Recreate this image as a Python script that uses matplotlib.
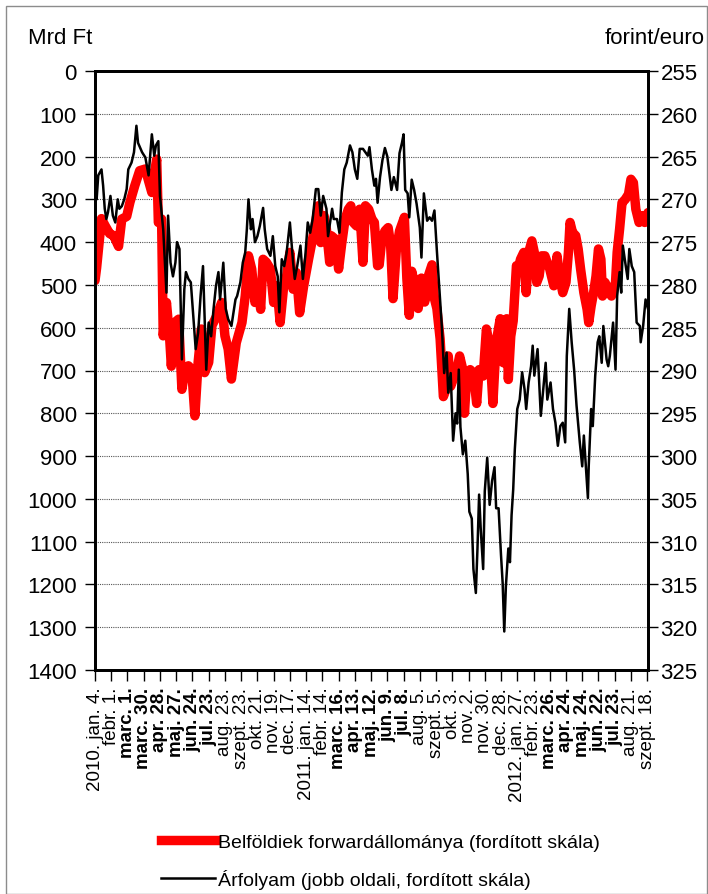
import matplotlib
matplotlib.use("Agg")
import matplotlib.pyplot as plt
from matplotlib.lines import Line2D
from matplotlib.patches import Rectangle

FONT = ["Liberation Sans", "DejaVu Sans"]
plt.rcParams["font.family"] = FONT

# ---- x tick labels (every 20 trading days) ----
tick_labels = ["2010. jan. 4.", "febr. 1.", "marc. 1.", "marc. 30.", "apr. 28.", "maj. 27.",
               "jun. 24.", "jul. 23.", "aug. 23.", "szept. 23.", "okt. 21.", "nov. 19.",
               "dec. 17.", "2011. jan. 14.", "febr. 14.", "marc. 16.", "apr. 13.", "maj. 12.",
               "jun. 9.", "jul. 8.", "aug. 5.", "szept. 5.", "okt. 3.", "nov. 2.", "nov. 30.",
               "dec. 28.", "2012. jan. 27.", "febr. 23.", "marc. 26.", "apr. 24.", "maj. 24.",
               "jun. 22.", "jul. 23.", "aug. 21.", "szept. 18."]
bold_labels = {"marc. 1.", "marc. 30.", "apr. 28.", "maj. 27.", "jun. 24.", "jul. 23.",
               "marc. 16.", "apr. 13.", "maj. 12.", "jun. 9.", "jul. 8.",
               "marc. 26.", "apr. 24.", "maj. 24.", "jun. 22."}

# ---- forward position of residents (Mrd Ft), trading-day index ----
fwd_day = [0, 2, 8, 12, 18, 23, 29, 33, 39, 43, 49, 55, 62, 66, 70, 74, 76, 78, 82, 84,
           88, 92, 94, 98, 103, 107, 111, 115, 119, 123, 127, 131, 135, 140, 144, 150, 156,
           160, 164, 168, 174, 181, 185, 189, 193, 197, 201, 204, 207, 211, 216, 220, 224,
           228, 232, 236, 240, 244, 248, 252, 257, 263, 267, 271, 275, 278, 282, 285, 289,
           291, 296, 300, 304, 308, 312, 315, 318, 322, 326, 330, 333, 337, 341, 344, 348,
           350, 353, 357, 361, 364, 367, 371, 375, 378, 381, 384, 387, 390, 394, 398, 402,
           406, 411, 415, 418, 421, 425, 429, 432, 435, 438, 441, 445, 449, 452, 455, 458,
           462, 466, 470, 473, 478, 482, 486, 490, 494, 499, 503, 507, 509, 512, 515, 519,
           521, 524, 528, 531, 534, 538, 541, 544, 547, 550, 554, 557, 560, 565, 569, 572,
           576, 580, 583, 585, 588, 592, 595, 598, 602, 606, 608, 611, 614, 617, 620, 623,
           625, 628, 632, 636, 641, 643, 646, 649, 653, 657, 660, 663, 666, 670, 674, 677,
           681]
fwd_val = [490, 460, 345, 360, 380, 385, 410, 346, 340, 307, 268, 233, 229, 257, 284, 229,
           206, 354, 346, 619, 541, 627, 690, 588, 580, 744, 697, 689, 697, 806, 681, 603,
           705, 681, 595, 572, 541, 619, 650, 720, 635, 588, 526, 432, 463, 541, 502, 557,
           440, 447, 463, 541, 502, 588, 510, 479, 424, 510, 471, 565, 502, 440, 401, 362,
           315, 401, 338, 370, 447, 385, 393, 463, 401, 346, 323, 315, 354, 362, 323, 447,
           315, 323, 346, 354, 455, 453, 397, 374, 366, 405, 532, 421, 374, 358, 342, 484,
           571, 468, 500, 555, 484, 540, 476, 453, 532, 555, 626, 761, 745, 666, 737, 721,
           706, 666, 690, 800, 706, 698, 706, 777, 698, 713, 603, 642, 777, 634, 579, 682,
           579, 721, 620, 584, 455, 463, 440, 424, 518, 424, 397, 424, 494, 479, 432, 432,
           448, 463, 502, 432, 479, 518, 494, 424, 354, 377, 385, 416, 463, 518, 557, 588,
           549, 518, 479, 416, 440, 526, 494, 510, 526, 494, 424, 370, 308, 300, 288, 253,
           261, 323, 354, 338, 354, 331]

# ---- HUF/EUR exchange rate, trading-day index ----
fx_day = [0, 2, 4, 8, 10, 12, 14, 16, 19, 22, 25, 28, 30, 33, 36, 39, 41, 45, 48, 51, 53,
          58, 62, 66, 70, 73, 75, 78, 80, 84, 88, 90, 93, 96, 99, 101, 104, 107, 110, 112,
          115, 118, 121, 124, 127, 130, 133, 137, 140, 143, 146, 149, 152, 154, 158, 161,
          164, 168, 173, 175, 179, 182, 185, 187, 189, 192, 194, 197, 200, 203, 207, 209,
          212, 216, 219, 222, 225, 227, 230, 233, 236, 240, 244, 246, 249, 253, 256, 259,
          262, 265, 268, 272, 275, 278, 281, 285, 287, 292, 294, 298, 301, 304, 307, 310,
          314, 317, 320, 323, 326, 330, 333, 336, 338, 341, 344, 346, 348, 351, 354, 357,
          360, 363, 365, 368, 372, 375, 378, 380, 382, 385, 387, 390, 393, 396, 400, 402,
          405, 409, 412, 415, 418, 421, 424, 427, 430, 433, 435, 438, 441, 444, 446, 448,
          450, 453, 456, 459, 461, 464, 466, 469, 471, 473, 475, 478, 480, 483, 486, 489,
          492, 494, 497, 500, 502, 504, 506, 509, 511, 513, 515, 517, 520, 523, 526, 529,
          531, 534, 537, 539, 541, 543, 545, 547, 549, 552, 555, 557, 561, 564, 567, 570,
          573, 576, 579, 581, 584, 587, 590, 593, 597, 600, 602, 605, 607, 608, 611, 613,
          616, 619, 621, 624, 626, 630, 632, 634, 638, 641, 643, 646, 648, 650, 653, 656,
          658, 661, 664, 667, 671, 672, 675, 678, 681]
fx_val = [268.8, 270.0, 267.2, 266.5, 268.4, 271.1, 272.3, 271.5, 269.6, 271.9, 272.7,
          270.0, 271.1, 270.8, 270.0, 268.8, 266.5, 265.7, 264.5, 261.4, 263.4, 264.5,
          265.1, 267.2, 262.4, 264.9, 263.7, 263.2, 269.6, 273.5, 280.9, 271.9, 277.4,
          279.0, 277.4, 275.0, 275.8, 288.7, 280.5, 278.5, 279.3, 279.7, 283.6, 287.5,
          285.6, 281.3, 277.8, 289.9, 284.4, 286.0, 282.8, 280.1, 278.5, 281.7, 277.4,
          282.8, 284.0, 284.8, 281.7, 281.3, 279.7, 277.4, 276.2, 273.5, 270.0, 273.5,
          272.3, 275.0, 274.3, 273.1, 271.0, 273.5, 275.8, 276.6, 274.3, 277.8, 279.0,
          283.2, 277.0, 277.8, 276.2, 272.7, 277.4, 279.3, 277.8, 275.4, 279.3, 276.6,
          272.7, 273.9, 272.3, 268.8, 268.8, 271.9, 269.6, 271.1, 274.3, 271.1, 272.3,
          272.3, 273.9, 269.2, 266.5, 265.7, 263.7, 264.5, 266.5, 267.6, 264.1, 264.1,
          264.5, 264.9, 263.9, 266.5, 268.4, 267.6, 270.4, 267.4, 265.4, 264.0, 265.0,
          267.4, 268.9, 267.4, 268.9, 264.6, 263.4, 262.4, 268.9, 269.3, 272.1, 267.7,
          268.9, 270.5, 273.3, 276.8, 269.3, 272.5, 272.1, 272.5, 271.3, 276.0, 280.4,
          284.7, 290.3, 287.9, 292.6, 290.3, 298.2, 295.0, 296.2, 289.9, 296.6, 299.8,
          298.2, 302.1, 306.5, 307.3, 313.2, 316.0, 310.8, 304.5, 308.5, 313.2, 304.1,
          300.2, 305.7, 302.9, 301.3, 306.1, 306.1, 311.6, 314.8, 320.5, 315.2, 310.8,
          312.4, 306.9, 303.9, 299.2, 294.5, 293.4, 290.2, 292.2, 294.5, 291.4, 289.5,
          287.1, 290.6, 289.1, 287.5, 291.4, 295.3, 292.2, 289.1, 293.4, 291.4, 294.5,
          296.1, 298.8, 296.5, 296.1, 298.4, 288.3, 282.8, 286.7, 289.9, 294.1, 298.4,
          301.2, 297.6, 301.9, 304.9, 301.2, 294.5, 296.5, 290.6, 286.7, 286.0, 289.1,
          284.8, 288.7, 289.5, 288.3, 284.4, 289.9, 281.3, 278.5, 280.9, 275.4, 277.4,
          279.3, 275.8, 277.8, 278.5, 284.4, 284.8, 286.7, 284.8, 281.7, 282.8]

left_ticks = list(range(0, 1401, 100))
right_ticks = list(range(255, 326, 5))

W, H = 708, 895
fig = plt.figure(figsize=(W / 100, H / 100), dpi=100)
ax = fig.add_axes([95 / W, 1 - 671 / H, (648 - 95) / W, (671 - 72) / H])

ax.plot(fwd_day, fwd_val, color="#ff0000", lw=6.8, solid_joinstyle="round",
        solid_capstyle="round", zorder=3)
ax.set_ylim(1400, 0)
ax.set_xlim(0, 681)
ax.set_yticks(left_ticks)
ax.set_yticklabels([str(v) for v in left_ticks], fontsize=16)
ax.yaxis.grid(True, color="#555555", linestyle=(0, (1, 1)), lw=0.8)
ax.set_axisbelow(True)

xt = list(range(0, 681, 20))
ax.set_xticks(xt)
ax.set_xticklabels(tick_labels, rotation=90, fontsize=13.5, va="top", ha="center")
for lab in ax.get_xticklabels():
    if lab.get_text() in bold_labels:
        lab.set_fontweight("bold")
ax.tick_params(axis="x", direction="out", length=8, width=1, pad=4)
ax.tick_params(axis="y", direction="out", length=7, width=1, pad=6)

ax2 = ax.twinx()
ax2.plot(fx_day, fx_val, color="black", lw=1.8, zorder=4)
ax2.set_ylim(325, 255)
ax2.set_yticks(right_ticks)
ax2.set_yticklabels([str(v) for v in right_ticks], fontsize=16)
ax2.tick_params(axis="y", direction="out", length=7, width=1, pad=2)
ax2.set_xlim(0, 681)

for a in (ax, ax2):
    for s in a.spines.values():
        s.set_linewidth(2.0)
        s.set_color("black")

fig.text(28 / W, 1 - 39 / H, "Mrd Ft", fontsize=16, ha="left", va="center")
fig.text(705 / W, 1 - 39 / H, "forint/euro", fontsize=16, ha="right", va="center")

handles = [Line2D([], [], color="#ff0000", lw=6.8),
           Line2D([], [], color="black", lw=1.8)]
fig.legend(handles, ["Belföldiek forwardállománya (fordított skála)",
                     "Árfolyam (jobb oldali, fordított skála)"],
           loc="upper left", bbox_to_anchor=(161 / W, 1 - 834 / H), frameon=False,
           fontsize=14, handlelength=2.8, labelspacing=0.95, handletextpad=0.15,
           borderpad=0, borderaxespad=0)

fig.patches.append(Rectangle((5.5 / W, 0.5 / H), (W - 6.5) / W, (H - 7.5) / H,
                             transform=fig.transFigure, fill=False,
                             edgecolor="#8c8c8c", lw=1.0))

fig.savefig("out.png", dpi=100)
